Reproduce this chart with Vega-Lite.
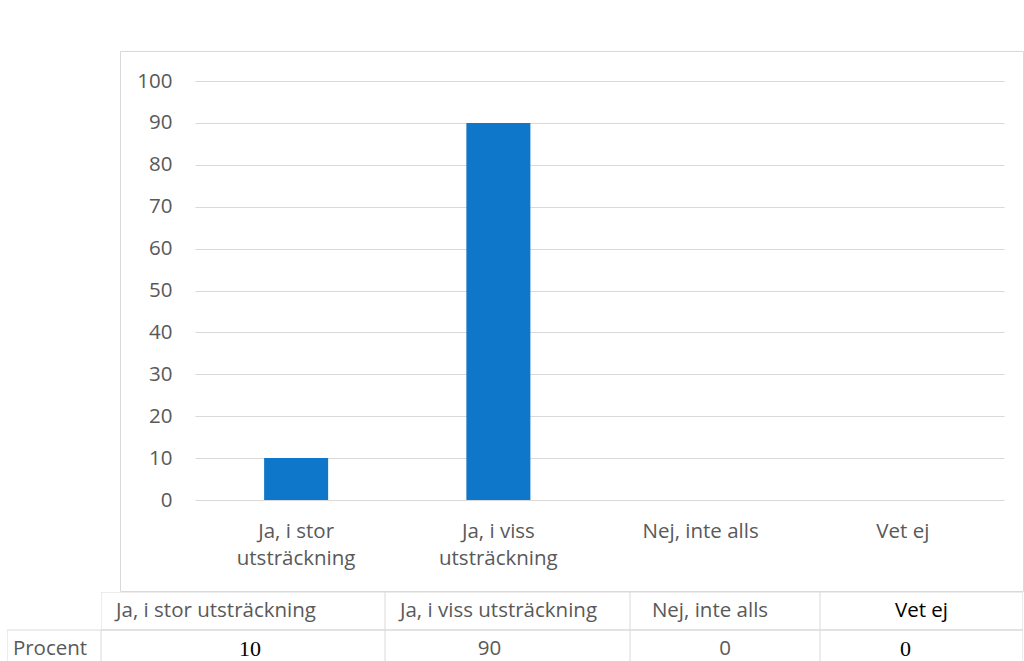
{
  "$schema": "https://vega.github.io/schema/vega-lite/v6.json",
  "padding": {"left": 7, "top": 50, "right": 0, "bottom": 0},
  "background": "white",
  "spacing": 0,
  "datasets": {
    "d": [
      {"category": "Ja, i stor utsträckning", "value": 10},
      {"category": "Ja, i viss utsträckning", "value": 90},
      {"category": "Nej, inte alls", "value": 0},
      {"category": "Vet ej", "value": 0}
    ]
  },
  "config": {"font": "Open Sans", "concat": {"spacing": 0}},
  "vconcat": [
    {
      "spacing": 0,
      "bounds": "flush",
      "hconcat": [
        {"width": 113, "height": 540, "view": {"stroke": null}, "data": {"values": []}, "mark": "point"},
        {
          "width": 903,
          "height": 540,
          "view": {"stroke": "#D9D9D9", "strokeWidth": 1},
          "data": {"name": "d"},
          "mark": {"type": "bar", "width": {"band": 0.3165}, "color": "#0F77CA"},
          "encoding": {
            "x": {
              "field": "category", "type": "nominal", "sort": null,
              "scale": {"type": "band", "range": [75, 884], "paddingInner": 0, "paddingOuter": 0},
              "axis": {
                "orient": "bottom", "offset": -91, "title": null, "domain": false, "ticks": false, "grid": false,
                "labelAngle": 0, "labelFont": "Open Sans", "labelFontSize": 20.5, "labelColor": "#595959",
                "labelPadding": 21, "labelLineHeight": 27, "labelLimit": 0,
                "labelExpr": "indexof(datum.label, ' utsträckning') > 0 ? [replace(datum.label, ' utsträckning', ''), 'utsträckning'] : datum.label"
              }
            },
            "y": {
              "field": "value", "type": "quantitative",
              "scale": {"domain": [0, 100], "range": [449, 30]},
              "axis": {
                "offset": -75, "title": null, "values": [0, 10, 20, 30, 40, 50, 60, 70, 80, 90, 100],
                "domain": false, "ticks": false, "grid": true, "gridColor": "#D9D9D9", "gridWidth": 1,
                "labelFont": "Open Sans", "labelFontSize": 20.5, "labelColor": "#595959", "labelPadding": 23
              }
            }
          }
        }
      ]
    },
    {
      "spacing": 0,
      "bounds": "flush",
      "hconcat": [
        {
          "width": 94, "height": 70, "view": {"stroke": null},
          "data": {"name": "d"},
          "transform": [{"filter": "datum.category === 'Vet ej'"}],
          "layer": [
            {"mark": {"type": "rect", "fill": "transparent", "stroke": "#D9D9D9", "strokeWidth": 1, "clip": true},
             "encoding": {"y": {"datum": "Procent", "type": "nominal", "scale": {"type": "band", "domain": ["head", "Procent"], "range": [0, 76], "paddingInner": 0, "paddingOuter": 0}, "axis": null}}},
            {"mark": {"type": "text", "font": "Open Sans", "fontSize": 20.5, "color": "#595959", "dx": -4},
             "encoding": {"y": {"datum": "Procent", "type": "nominal"}, "text": {"value": "Procent"}}}
          ]
        },
        {
          "width": 284, "height": 70, "view": {"stroke": null},
          "data": {"name": "d"},
          "transform": [{"filter": "datum.category === 'Ja, i stor utsträckning'"}],
          "layer": [
            {"mark": {"type": "rect", "fill": "transparent", "stroke": "#D9D9D9", "strokeWidth": 1, "clip": true},
             "encoding": {"y": {"datum": "head", "type": "nominal", "scale": {"type": "band", "domain": ["head", "Procent"], "range": [0, 76], "paddingInner": 0, "paddingOuter": 0}, "axis": null}}},
            {"mark": {"type": "rect", "fill": "transparent", "stroke": "#D9D9D9", "strokeWidth": 1, "clip": true},
             "encoding": {"y": {"datum": "Procent", "type": "nominal"}}},
            {"mark": {"type": "text", "font": "Open Sans", "fontSize": 20.5, "color": "#595959", "dx": -27},
             "encoding": {"y": {"datum": "head", "type": "nominal"}, "text": {"field": "category"}}},
            {"mark": {"type": "text", "font": "Liberation Serif", "fontSize": 22, "color": "#000000", "dx": 7},
             "encoding": {"y": {"datum": "Procent", "type": "nominal"}, "text": {"field": "value", "type": "quantitative"}}}
          ]
        },
        {
          "width": 245, "height": 70, "view": {"stroke": null},
          "data": {"name": "d"},
          "transform": [{"filter": "datum.category === 'Ja, i viss utsträckning'"}],
          "layer": [
            {"mark": {"type": "rect", "fill": "transparent", "stroke": "#D9D9D9", "strokeWidth": 1, "clip": true},
             "encoding": {"y": {"datum": "head", "type": "nominal", "scale": {"type": "band", "domain": ["head", "Procent"], "range": [0, 76], "paddingInner": 0, "paddingOuter": 0}, "axis": null}}},
            {"mark": {"type": "rect", "fill": "transparent", "stroke": "#D9D9D9", "strokeWidth": 1, "clip": true},
             "encoding": {"y": {"datum": "Procent", "type": "nominal"}}},
            {"mark": {"type": "text", "font": "Open Sans", "fontSize": 20.5, "color": "#595959", "dx": -9},
             "encoding": {"y": {"datum": "head", "type": "nominal"}, "text": {"field": "category"}}},
            {"mark": {"type": "text", "font": "Open Sans", "fontSize": 20.5, "color": "#595959", "dx": -18},
             "encoding": {"y": {"datum": "Procent", "type": "nominal"}, "text": {"field": "value", "type": "quantitative"}}}
          ]
        },
        {
          "width": 190, "height": 70, "view": {"stroke": null},
          "data": {"name": "d"},
          "transform": [{"filter": "datum.category === 'Nej, inte alls'"}],
          "layer": [
            {"mark": {"type": "rect", "fill": "transparent", "stroke": "#D9D9D9", "strokeWidth": 1, "clip": true},
             "encoding": {"y": {"datum": "head", "type": "nominal", "scale": {"type": "band", "domain": ["head", "Procent"], "range": [0, 76], "paddingInner": 0, "paddingOuter": 0}, "axis": null}}},
            {"mark": {"type": "rect", "fill": "transparent", "stroke": "#D9D9D9", "strokeWidth": 1, "clip": true},
             "encoding": {"y": {"datum": "Procent", "type": "nominal"}}},
            {"mark": {"type": "text", "font": "Open Sans", "fontSize": 20.5, "color": "#595959", "dx": -15},
             "encoding": {"y": {"datum": "head", "type": "nominal"}, "text": {"field": "category"}}},
            {"mark": {"type": "text", "font": "Open Sans", "fontSize": 20.5, "color": "#595959", "dx": 0},
             "encoding": {"y": {"datum": "Procent", "type": "nominal"}, "text": {"field": "value", "type": "quantitative"}}}
          ]
        },
        {
          "width": 203, "height": 70, "view": {"stroke": null},
          "data": {"name": "d"},
          "transform": [{"filter": "datum.category === 'Vet ej'"}],
          "layer": [
            {"mark": {"type": "rect", "fill": "transparent", "stroke": "#D9D9D9", "strokeWidth": 1, "clip": true},
             "encoding": {"y": {"datum": "head", "type": "nominal", "scale": {"type": "band", "domain": ["head", "Procent"], "range": [0, 76], "paddingInner": 0, "paddingOuter": 0}, "axis": null}}},
            {"mark": {"type": "rect", "fill": "transparent", "stroke": "#D9D9D9", "strokeWidth": 1, "clip": true},
             "encoding": {"y": {"datum": "Procent", "type": "nominal"}}},
            {"mark": {"type": "text", "font": "Open Sans", "fontSize": 20.5, "color": "#000000", "dx": 0},
             "encoding": {"y": {"datum": "head", "type": "nominal"}, "text": {"field": "category"}}},
            {"mark": {"type": "text", "font": "Liberation Serif", "fontSize": 22, "color": "#000000", "dx": -16},
             "encoding": {"y": {"datum": "Procent", "type": "nominal"}, "text": {"field": "value", "type": "quantitative"}}}
          ]
        }
      ]
    }
  ]
}
